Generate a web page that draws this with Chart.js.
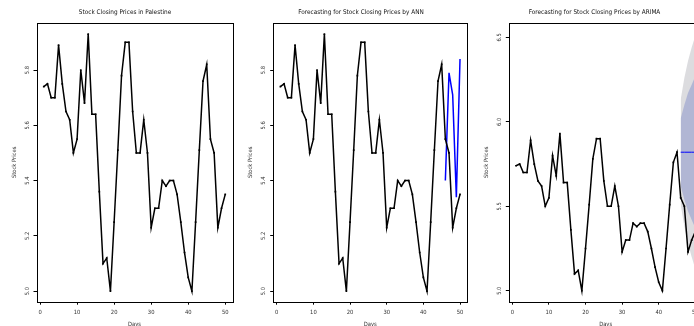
<!DOCTYPE html>
<html>
<head>
<meta charset="utf-8">
<script src="https://cdn.jsdelivr.net/npm/chart.js@4/dist/chart.umd.min.js"></script>
<style>
  html, body { margin: 0; padding: 0; background: #fff; width: 694px; height: 326px; overflow: hidden; }
  .panel { position: absolute; top: 0; height: 326px; }
</style>
</head>
<body>
<div class="panel" style="left:0px;width:250px"><canvas id="pricesChart"></canvas></div>
<div class="panel" style="left:236px;width:250px"><canvas id="annChart"></canvas></div>
<div class="panel" style="left:470px;width:249px"><canvas id="arimaChart"></canvas></div>
<script>
var days = [1, 2, 3, 4, 5, 6, 7, 8, 9, 10, 11, 12, 13, 14, 15, 16, 17, 18, 19, 20,
    21, 22, 23, 24, 25, 26, 27, 28, 29, 30, 31, 32, 33, 34, 35, 36, 37, 38, 39, 40,
    41, 42, 43, 44, 45, 46, 47, 48, 49, 50];
var prices = [5.74, 5.75, 5.70, 5.70, 5.89, 5.75, 5.65, 5.62, 5.50, 5.55,
    5.80, 5.68, 5.93, 5.64, 5.64, 5.36, 5.10, 5.12, 5.00, 5.25,
    5.51, 5.78, 5.90, 5.90, 5.65, 5.50, 5.50, 5.62, 5.50, 5.23,
    5.30, 5.30, 5.40, 5.38, 5.40, 5.40, 5.35, 5.25, 5.14, 5.05,
    5.00, 5.25, 5.51, 5.76, 5.82, 5.55, 5.50, 5.23, 5.30, 5.35];

var forecastDays = [46, 47, 48, 49, 50];
var annForecast = [5.40, 5.79, 5.71, 5.34, 5.84];
var arimaMean = [5.82, 5.82, 5.82, 5.82, 5.82];
var arimaHi80 = [6.02, 6.10, 6.17, 6.22, 6.27];
var arimaLo80 = [5.62, 5.54, 5.47, 5.42, 5.37];
var arimaHi95 = [6.13, 6.26, 6.36, 6.44, 6.51];
var arimaLo95 = [5.51, 5.38, 5.28, 5.20, 5.13];

var xTicks = [0, 10, 20, 30, 40, 50];
var yTicksSmall = ['5.0', '5.2', '5.4', '5.6', '5.8'];
var yTicksArima = ['5.0', '5.5', '6.0', '6.5'];

var FONT = '"Liberation Sans Narrow", "DejaVu Sans Condensed", "Arial Narrow", sans-serif';

function pts(xs, ys) {
    return xs.map(function(x, i) { return { x: x, y: ys[i] }; });
}

// R-style frame + rotated y tick labels
var rAxisText = {
    id: 'rAxisText',
    afterDraw: function(chart, args, o) {
        var ctx = chart.ctx, a = chart.chartArea, ys = chart.scales.y;
        ctx.save();
        ctx.font = '5.8px ' + FONT;
        ctx.fillStyle = '#333';
        ctx.textAlign = 'center';
        ctx.textBaseline = 'middle';
        o.labels.forEach(function(t) {
            var py = ys.getPixelForValue(parseFloat(t));
            ctx.save();
            ctx.translate(a.left - 9.3, py);
            ctx.rotate(-Math.PI / 2);
            ctx.fillText(t, 0, 0);
            ctx.restore();
        });
        ctx.strokeStyle = '#000';
        ctx.lineWidth = 1;
        var l = Math.round(a.left) + 0.5, t = Math.round(a.top) + 0.5;
        ctx.strokeRect(l, t, Math.round(a.right) - Math.round(a.left), Math.round(a.bottom) - Math.round(a.top));
        ctx.restore();
    }
};

function makeOptions(title, yMin, yMax, yLabels, yWidth, rWidth) {
    return {
        responsive: true,
        maintainAspectRatio: false,
        animation: false,
        events: [],
        elements: {
            line: { tension: 0 },
            point: { radius: 0 }
        },
        scales: {
            x: {
                type: 'linear',
                min: -0.96,
                max: 51.96,
                afterBuildTicks: function(s) { s.ticks = xTicks.map(function(v) { return { value: v }; }); },
                afterFit: function(s) { s.height = 24.3; },
                grid: { drawOnChartArea: false, drawTicks: true, tickLength: 3, color: '#000' },
                border: { display: false },
                ticks: { font: { family: FONT, size: 5.8 }, color: '#333', padding: 4, maxRotation: 0 },
                title: { display: true, text: 'Days', font: { family: FONT, size: 5.8 }, color: '#333', padding: { top: 0, bottom: -1.5 } }
            },
            y: {
                type: 'linear',
                min: yMin,
                max: yMax,
                afterBuildTicks: function(s) { s.ticks = yLabels.map(function(v) { return { value: parseFloat(v) }; }); },
                afterFit: function(s) { s.width = yWidth; },
                grid: { drawOnChartArea: false, drawTicks: true, tickLength: 3, color: '#000' },
                border: { display: false },
                ticks: { display: false },
                title: { display: true, text: 'Stock Prices', font: { family: FONT, size: 5.8 }, color: '#333', padding: { top: yWidth - 22.3 - 3.5, bottom: 0 } }
            },
            yR: {
                type: 'linear',
                position: 'right',
                afterFit: function(s) { s.width = rWidth; },
                grid: { display: false },
                border: { display: false },
                ticks: { display: false }
            }
        },
        plugins: {
            legend: { display: false },
            tooltip: { enabled: false },
            title: {
                display: true,
                text: title,
                font: { family: FONT, size: 6.4, weight: 'normal' },
                color: '#111',
                padding: { top: 8.3, bottom: 23 - 8.3 - 7.68 }
            },
            rAxisText: { labels: yLabels }
        }
    };
}

var observedSet = {
    label: 'Stock Prices',
    data: pts(days, prices),
    borderColor: '#000',
    borderWidth: 1.5,
    pointRadius: 1.2,
    pointStyle: 'rect',
    pointBackgroundColor: '#000',
    pointBorderWidth: 0
};

var config = {
    type: 'line',
    data: { datasets: [Object.assign({}, observedSet)] },
    options: makeOptions('Stock Closing Prices in Palestine', 4.962, 5.970, yTicksSmall, 36.5, 17.5),
    plugins: [rAxisText]
};

var config2 = {
    type: 'line',
    data: {
        datasets: [Object.assign({}, observedSet), {
            label: 'ANN',
            data: pts(forecastDays, annForecast),
            borderColor: '#0000ff',
            borderWidth: 1.5
        }]
    },
    options: makeOptions('Forecasting for Stock Closing Prices by ANN', 4.962, 5.970, yTicksSmall, 37.2, 18.8),
    plugins: [rAxisText]
};

var config3 = {
    type: 'line',
    data: {
        datasets: [Object.assign({}, observedSet), {
            label: 'ARIMA',
            data: pts(forecastDays, arimaMean),
            borderColor: '#0000ff',
            borderWidth: 1
        }, {
            label: 'Hi 80',
            data: pts(forecastDays, arimaHi80),
            borderWidth: 0,
            backgroundColor: '#b1b6d4',
            fill: { target: 3 }
        }, {
            label: 'Lo 80',
            data: pts(forecastDays, arimaLo80),
            borderWidth: 0
        }, {
            label: 'Hi 95',
            data: pts(forecastDays, arimaHi95),
            borderWidth: 0,
            backgroundColor: '#dcdcdf',
            fill: { target: 5 }
        }, {
            label: 'Lo 95',
            data: pts(forecastDays, arimaLo95),
            borderWidth: 0
        }]
    },
    options: makeOptions('Forecasting for Stock Closing Prices by ARIMA', 4.935, 6.585, yTicksArima, 38.8, 16.5),
    plugins: [rAxisText]
};

var chart = new Chart(document.getElementById('pricesChart'), config);
var chart2 = new Chart(document.getElementById('annChart'), config2);
var chart3 = new Chart(document.getElementById('arimaChart'), config3);
</script>
</body>
</html>
